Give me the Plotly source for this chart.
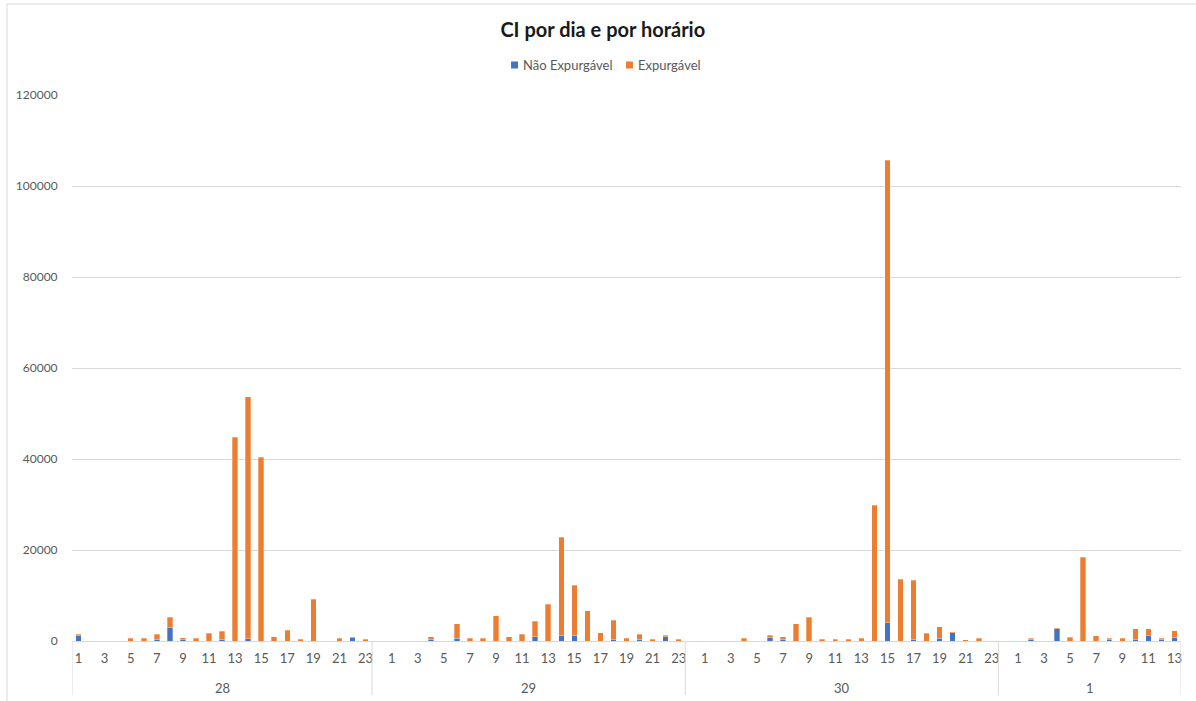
import plotly.graph_objects as go

# ---- data ----
days = ["28", "29", "30", "1"]
hours_28 = list(range(1, 24))
hours_29 = list(range(0, 24))
hours_30 = list(range(0, 24))
hours_01 = list(range(0, 14))

nao_28 = [1200, 0, 0, 0, 0, 0, 400, 2900, 400, 0, 0, 400, 0, 500, 0, 0, 0, 0, 0, 0, 0, 700, 0]
exp_28 = [300, 0, 0, 0, 600, 600, 1100, 2300, 300, 600, 1750, 1700, 44800, 53200, 40400, 950, 2400, 440, 9230, 0, 600, 250, 400]

nao_29 = [0, 0, 0, 0, 370, 0, 660, 0, 0, 0, 0, 0, 950, 0, 1250, 1250, 0, 0, 370, 0, 370, 0, 950, 0]
exp_29 = [0, 0, 0, 0, 580, 0, 3080, 660, 660, 5500, 950, 1470, 3370, 8060, 21550, 10980, 6600, 1760, 4230, 660, 1100, 370, 300, 370]

nao_30 = [0, 0, 0, 0, 0, 0, 880, 370, 0, 0, 0, 0, 0, 0, 0, 4030, 0, 370, 0, 590, 1760, 0, 0, 0]
exp_30 = [0, 0, 0, 0, 590, 0, 370, 580, 3740, 5200, 370, 370, 370, 590, 29800, 101670, 13600, 12960, 1690, 2560, 290, 300, 590, 0]

nao_01 = [0, 0, 370, 0, 2640, 0, 0, 0, 370, 0, 370, 1170, 370, 880]
exp_01 = [0, 0, 220, 0, 290, 880, 18460, 1170, 220, 590, 2270, 1470, 220, 1390]

series_names = ["Não Expurgável", "Expurgável"]
y_ticks = [0, 20000, 40000, 60000, 80000, 100000, 120000]

# ---- assemble ----
hour_groups = [hours_28, hours_29, hours_30, hours_01]
nao = nao_28 + nao_29 + nao_30 + nao_01
exp = exp_28 + exp_29 + exp_30 + exp_01
hours = [h for g in hour_groups for h in g]
xpos = list(range(len(hours)))

BLUE = "#4472C4"
ORANGE = "#ED7D31"
GRID = "#D9D9D9"
TXT = "#595959"
FONT = "Lato"

fig = go.Figure()
fig.add_bar(x=xpos, y=nao, name=series_names[0], showlegend=False,
            marker=dict(color=BLUE, line=dict(color="rgba(255,255,255,0.6)", width=0.5)))
fig.add_bar(x=xpos, y=exp, name=series_names[1], showlegend=False,
            marker=dict(color=ORANGE, line=dict(color="rgba(255,255,255,0.6)", width=0.5)))

# group boundaries
bounds = [-0.5]
for g in hour_groups:
    bounds.append(bounds[-1] + len(g))

shapes = []
for b in bounds:
    shapes.append(dict(type="line", xref="x", yref="paper", x0=b, x1=b, y0=0, y1=-0.099,
                       line=dict(color=GRID, width=1)))
# chart border (left and top)
shapes.append(dict(type="line", xref="paper", yref="paper", x0=-0.0586, x1=1.2, y0=1.1667, y1=1.1667,
                   line=dict(color=GRID, width=1)))
shapes.append(dict(type="line", xref="paper", yref="paper", x0=-0.0586, x1=-0.0586, y0=1.1667, y1=-0.2,
                   line=dict(color=GRID, width=1)))

annotations = []
for i, d in enumerate(days):
    annotations.append(dict(x=(bounds[i] + bounds[i + 1]) / 2, y=-0.086, xref="x", yref="paper",
                            text=d, showarrow=False, font=dict(family=FONT, size=13, color=TXT),
                            xanchor="center", yanchor="middle"))

# manual legend (squares + labels)
legend_items = [(series_names[0], BLUE, 0.3959, 0.4049), (series_names[1], ORANGE, 0.4995, 0.5086)]
for name, col, sx, tx in legend_items:
    shapes.append(dict(type="rect", xref="paper", yref="paper", x0=sx, x1=sx + 0.0063,
                       y0=1.0485, y1=1.0614, fillcolor=col, line=dict(width=0)))
    annotations.append(dict(x=tx, y=1.0549, xref="paper", yref="paper", text=name, showarrow=False,
                            xanchor="left", yanchor="middle", font=dict(family=FONT, size=13, color=TXT)))

tickvals = [x for x in xpos if x % 2 == 0]
ticktext = [str(hours[x]) for x in tickvals]

fig.update_layout(
    barmode="stack",
    bargap=0.58,
    width=1196, height=701,
    margin=dict(l=72, r=15, t=95, b=60),
    paper_bgcolor="white", plot_bgcolor="white",
    font=dict(family=FONT, color=TXT, size=12),
    showlegend=False,
    title=dict(text="<b>CI por dia e por horário</b>", x=0.504, xanchor="center",
               y=1 - 30 / 701, yanchor="middle", font=dict(family=FONT, size=20, color="#1a1a1a")),
    xaxis=dict(range=[-0.5, len(hours) - 0.5], tickmode="array", tickvals=tickvals, ticktext=ticktext,
               showgrid=False, zeroline=False, showline=True, linecolor=GRID, linewidth=1,
               ticks="outside", ticklen=5, tickcolor="rgba(0,0,0,0)",
               tickfont=dict(family=FONT, size=13, color=TXT), fixedrange=True),
    yaxis=dict(range=[0, 120000], tickmode="array", tickvals=y_ticks, ticktext=[str(v) for v in y_ticks],
               showgrid=True, gridcolor=GRID, gridwidth=1, zeroline=False, showline=False,
               ticks="outside", ticklen=11, tickcolor="rgba(0,0,0,0)",
               tickfont=dict(family=FONT, size=12, color=TXT)),
    shapes=shapes,
    annotations=annotations,
)

fig.write_html("out.html", config={"displayModeBar": False},
               post_script="document.body.style.margin='0';document.body.style.overflow='hidden';")
